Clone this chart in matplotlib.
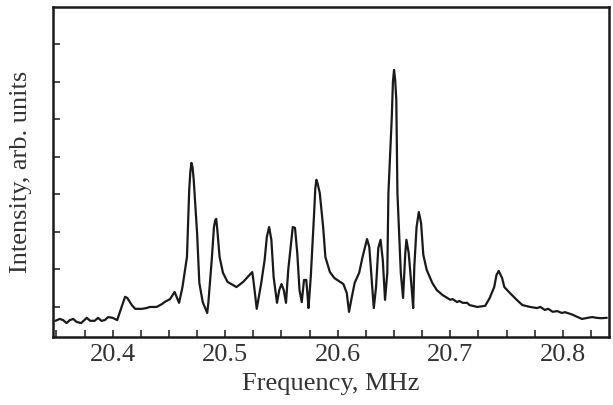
import numpy as np
import matplotlib.pyplot as plt

# Spectrum
freq = [20.349, 20.353, 20.356, 20.359, 20.362, 20.365, 20.368, 20.372, 20.377, 20.380,
        20.384, 20.387, 20.390, 20.393, 20.396, 20.400, 20.404, 20.408, 20.411, 20.413,
        20.417, 20.420, 20.426, 20.430, 20.433, 20.439, 20.444, 20.446, 20.451, 20.455,
        20.459, 20.462, 20.466, 20.468, 20.469, 20.470, 20.471, 20.472, 20.475, 20.477,
        20.480, 20.484, 20.485, 20.488, 20.490, 20.491, 20.492, 20.493, 20.495, 20.498,
        20.502, 20.510, 20.516, 20.520, 20.524, 20.525, 20.528, 20.532, 20.535, 20.537,
        20.539, 20.541, 20.543, 20.546, 20.548, 20.550, 20.552, 20.554, 20.556, 20.560,
        20.562, 20.564, 20.566, 20.568, 20.570, 20.572, 20.573, 20.574, 20.576, 20.579,
        20.580, 20.581, 20.582, 20.584, 20.587, 20.589, 20.593, 20.597, 20.602, 20.605,
        20.608, 20.610, 20.612, 20.615, 20.619, 20.622, 20.626, 20.628, 20.630, 20.632,
        20.634, 20.636, 20.638, 20.640, 20.642, 20.644, 20.645, 20.648, 20.649, 20.650,
        20.651, 20.652, 20.653, 20.656, 20.658, 20.660, 20.661, 20.663, 20.666, 20.667,
        20.668, 20.670, 20.672, 20.674, 20.676, 20.679, 20.684, 20.688, 20.693, 20.700,
        20.702, 20.706, 20.708, 20.711, 20.715, 20.717, 20.724, 20.731, 20.735, 20.739,
        20.741, 20.743, 20.746, 20.748, 20.753, 20.759, 20.764, 20.771, 20.777, 20.780,
        20.784, 20.787, 20.791, 20.795, 20.799, 20.802, 20.804, 20.808, 20.811, 20.817,
        20.822, 20.826, 20.830, 20.834, 20.839]
intensity = [0.63, 0.68, 0.65, 0.57, 0.65, 0.68, 0.60, 0.57, 0.71, 0.63,
             0.63, 0.71, 0.63, 0.65, 0.73, 0.71, 0.65, 1.00, 1.27, 1.24,
             1.05, 0.95, 0.95, 0.97, 1.00, 1.00, 1.08, 1.13, 1.21, 1.40,
             1.11, 1.53, 2.33, 4.12, 4.60, 4.84, 4.72, 4.39, 2.97, 1.64,
             1.13, 0.84, 1.11, 2.25, 3.13, 3.30, 3.35, 3.05, 2.33, 1.91,
             1.67, 1.53, 1.67, 1.80, 1.93, 1.72, 0.95, 1.64, 2.25, 2.87,
             3.13, 2.79, 1.80, 1.11, 1.45, 1.61, 1.45, 1.11, 1.99, 3.13,
             3.11, 2.44, 1.45, 1.13, 1.72, 1.72, 1.37, 0.97, 1.80, 3.51,
             4.15, 4.39, 4.30, 4.04, 3.13, 2.33, 1.93, 1.77, 1.67, 1.61,
             1.37, 0.87, 1.19, 1.64, 1.91, 2.33, 2.81, 2.60, 1.80, 0.97,
             1.53, 2.57, 2.79, 2.25, 1.19, 1.91, 4.04, 6.07, 7.00, 7.32,
             7.05, 6.52, 4.04, 1.91, 1.24, 2.44, 2.79, 2.44, 1.37, 0.97,
             2.07, 3.13, 3.53, 3.24, 2.39, 1.99, 1.64, 1.45, 1.32, 1.19,
             1.21, 1.13, 1.16, 1.11, 1.11, 1.05, 1.00, 1.03, 1.24, 1.53,
             1.85, 1.96, 1.77, 1.53, 1.37, 1.19, 1.05, 1.00, 0.97, 1.00,
             0.92, 0.95, 0.87, 0.89, 0.84, 0.86, 0.84, 0.80, 0.76, 0.68,
             0.71, 0.73, 0.71, 0.70, 0.71]

x_ticks = [20.4, 20.5, 20.6, 20.7, 20.8]
y_ticks = [1, 2, 3, 4, 5, 6, 7, 8]

plt.rcParams['font.family'] = ['Liberation Serif', 'DejaVu Serif']

fig = plt.figure(figsize=(6.13, 4.05), dpi=100)
ax = fig.add_axes([0.0865, 0.168, 0.907, 0.815])

ax.plot(freq, intensity, color='#1a1a1a', lw=1.6,
        solid_joinstyle='round', solid_capstyle='round')

ax.set_xlim(20.347, 20.841)
ax.set_ylim(0.2, 9.0)
ax.set_xticks(x_ticks)
ax.set_xticklabels([f'{v:.1f}' for v in x_ticks])
ax.set_xticks(np.arange(20.35, 20.84, 0.025), minor=True)
ax.set_yticks(y_ticks)
ax.set_yticklabels([])

ax.tick_params(which='both', direction='in', length=5, width=1.1, labelsize=19,
               color='#1a1a1a', labelcolor='#333333', pad=5)
for s in ax.spines.values():
    s.set_linewidth(1.8)
    s.set_color('#1a1a1a')

ax.set_xlabel('Frequency, MHz', fontsize=19, color='#333333', labelpad=5)
ax.set_ylabel('Intensity, arb. units', fontsize=19, color='#333333', labelpad=10)

fig.savefig('out.png', dpi=100)
